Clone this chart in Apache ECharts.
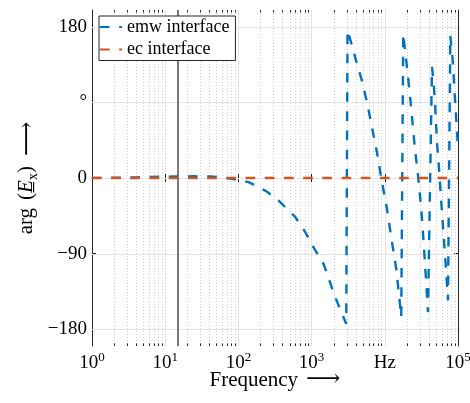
<!DOCTYPE html>
<html>
<head>
<meta charset="utf-8">
<script src="https://cdn.jsdelivr.net/npm/echarts@6/dist/echarts.min.js"></script>
<style>
  html, body { margin: 0; padding: 0; background: #ffffff; }
  #chart { width: 470px; height: 403px; }
</style>
</head>
<body>
<div id="chart"></div>
<script>
// Phase of E_x versus frequency for the two interface formulations.
const freqEmw = [1, 2, 4, 6.6, 12.8, 24, 42, 60, 78, 138, 239, 352, 597, 817, 1119, 1453, 2100, 2971,
  3096, 3554, 4160, 4866, 5697, 6670, 7810, 8940, 10690, 12520, 14330, 15740, 16780,
  17870, 19020, 20710, 22970, 25510, 28400, 31480, 33880, 36500, 38900,
  44130, 46430, 48980, 51660, 55500, 59100, 63560, 68540, 73000,
  78500, 84400, 89900, 96900, 100000];
const phaseEmw = [0.1, 0.3, 0.7, 1.2, 1.8, 2, 1.8, 0.8, -0.7, -4.9, -15.6, -26.6, -46.4, -64.3, -86, -102, -141.7, -173.6,
  175.9, 158, 136, 116, 90.5, 60.7, 30.7, 0, -36.4, -76, -108, -141.7, -165.5,
  171.7, 149.8, 122, 82.6, 39, 3.2, -36.4, -76, -120, -159.6,
  132.2, 114, 82.6, 42.6, 7, -28.8, -68, -108, -145.6,
  169.5, 142, 102, 54.8, 36];

const freqEc = [1, 100000];
const phaseEc = [0, 0];

// Reference frequency marked by the vertical line
const markerFreq = 15;

// Axis ticks and their labels
const xTickValues = [1, 10, 100, 1000, 10000, 100000];
const xTickLabels = ['{b|10}{p|0}', '{b|10}{p|1}', '{b|10}{p|2}', '{b|10}{p|3}', '{b|Hz}', '{b|10}{p|5}'];
const yTickValues = [-180, -90, 0, 90, 180];
const yTickLabels = ['\u2212180', '\u221290', '0', '\u00B0', '180'];

const FONT = '"Liberation Serif", "DejaVu Serif", serif';
const AXIS_COLOR = '#262626';
const MAJOR_GRID = '#e3e3e3';
const MINOR_GRID = '#cdcdcd';

// Minor decade positions 2..9 x 10^k for the log axis
const minorFreqs = [];
for (let k = 0; k < 5; k++) {
  for (let m = 2; m <= 9; m++) minorFreqs.push([m * Math.pow(10, k), 0]);
}

const zip = (xs, ys) => xs.map((x, i) => [x, ys[i]]);

function renderMinor(params, api) {
  const cs = params.coordSys;
  const x = Math.round(api.coord([api.value(0), 0])[0]) + 0.5;
  const top = cs.y, bot = cs.y + cs.height;
  return {
    type: 'group',
    children: [
      { type: 'line', shape: { x1: x, y1: top, x2: x, y2: bot },
        style: { stroke: MINOR_GRID, lineWidth: 1, lineDash: [1, 2] } },
      { type: 'line', shape: { x1: x, y1: bot, x2: x, y2: bot - 2.5 },
        style: { stroke: AXIS_COLOR, lineWidth: 1 } },
      { type: 'line', shape: { x1: x, y1: top, x2: x, y2: top + 2.5 },
        style: { stroke: AXIS_COLOR, lineWidth: 1 } }
    ]
  };
}

function renderHGrid(params, api) {
  const cs = params.coordSys;
  const y = Math.round(api.coord([1, api.value(1)])[1]) + 0.5;
  return {
    type: 'line',
    shape: { x1: cs.x, y1: y, x2: cs.x + cs.width, y2: y },
    style: { stroke: MAJOR_GRID, lineWidth: 1 }
  };
}

const chart = echarts.init(document.getElementById('chart'), null, { renderer: 'canvas' });

const xBase = {
  type: 'log', logBase: 10, min: 1, max: 100000, splitNumber: 5,
  axisLine: { show: true, lineStyle: { color: AXIS_COLOR, width: 1 } },
  axisTick: { show: true, inside: true, length: 4, lineStyle: { color: AXIS_COLOR } },
  minorTick: { show: false }
};
const yBase = {
  type: 'value', min: -200, max: 200,
  axisLine: { show: true, onZero: false, lineStyle: { color: AXIS_COLOR, width: 1 } },
  axisTick: { show: true, inside: true, length: 4, customValues: yTickValues, lineStyle: { color: AXIS_COLOR } },
  splitLine: { show: false }
};

chart.setOption({
  animation: false,
  backgroundColor: '#ffffff',
  grid: { left: 92, top: 10, right: 12, bottom: 57, containLabel: false, outerBoundsMode: 'none' },
  legend: {
    orient: 'vertical',
    left: 99, top: 16,
    padding: [2, 6, 2, 0],
    itemGap: 4.5,
    itemWidth: 22, itemHeight: 18,
    backgroundColor: '#ffffff',
    borderColor: AXIS_COLOR, borderWidth: 1, borderRadius: 0,
    itemStyle: { opacity: 0 },
    textStyle: { fontFamily: FONT, fontSize: 18, color: '#000000', lineHeight: 18 },
    data: ['emw interface', 'ec interface']
  },
  xAxis: [
    Object.assign({}, xBase, {
      position: 'bottom',
      name: '{t|Frequency}{a|\u27F6}',
      nameLocation: 'middle', nameGap: 22, nameMoveOverlap: false,
      nameTextStyle: {
        rich: {
          t: { fontFamily: FONT, fontSize: 21, color: '#000000', lineHeight: 24 },
          a: { fontFamily: FONT, fontSize: 24, color: '#000000', lineHeight: 24, padding: [0, 0, 0, 8] }
        }
      },
      splitLine: { show: true, lineStyle: { color: MAJOR_GRID, width: 1 } },
      axisLabel: {
        show: true, margin: 5,
        formatter: v => xTickLabels[Math.round(Math.log10(v))],
        rich: {
          b: { fontFamily: FONT, fontSize: 19, color: '#000000', lineHeight: 22, verticalAlign: 'bottom' },
          p: { fontFamily: FONT, fontSize: 13, color: '#000000', lineHeight: 12, verticalAlign: 'top' }
        }
      }
    }),
    Object.assign({}, xBase, {
      position: 'top',
      axisLabel: { show: false },
      splitLine: { show: false }
    })
  ],
  yAxis: [
    Object.assign({}, yBase, {
      position: 'left',
      name: '{t|arg}{g|(}{e|E\u0332}{s|x}{t|)}{a|\u27F6}',
      nameLocation: 'middle', nameGap: 52, nameRotate: 90, nameMoveOverlap: false,
      nameTextStyle: {
        rich: {
          t: { fontFamily: FONT, fontSize: 21, color: '#000000', lineHeight: 24, verticalAlign: 'top' },
          g: { fontFamily: FONT, fontSize: 21, color: '#000000', lineHeight: 24, verticalAlign: 'top', padding: [0, 0, 0, 8] },
          e: { fontFamily: FONT, fontSize: 21, fontStyle: 'italic', color: '#000000', lineHeight: 24, verticalAlign: 'top' },
          s: { fontFamily: FONT, fontSize: 14, color: '#000000', lineHeight: 14, verticalAlign: 'bottom' },
          a: { fontFamily: FONT, fontSize: 24, color: '#000000', lineHeight: 24, verticalAlign: 'top', padding: [0, 0, 0, 10] }
        }
      },
      axisLabel: {
        show: true, margin: 5, customValues: yTickValues,
        fontFamily: FONT, fontSize: 19, color: '#000000',
        formatter: v => yTickLabels[yTickValues.indexOf(Math.round(v))]
      }
    }),
    Object.assign({}, yBase, {
      position: 'right',
      axisLabel: { show: false }
    })
  ],
  series: [
    {
      type: 'custom', name: 'minor', silent: true, z: 1,
      xAxisIndex: 0, yAxisIndex: 0,
      renderItem: renderMinor,
      data: minorFreqs
    },
    {
      type: 'custom', name: 'hgrid', silent: true, z: 1,
      xAxisIndex: 0, yAxisIndex: 0,
      renderItem: renderHGrid,
      data: yTickValues.map(v => [1, v])
    },
    {
      name: 'emw interface', type: 'line', z: 3,
      xAxisIndex: 0, yAxisIndex: 0,
      symbol: 'none', showSymbol: false,
      lineStyle: { color: '#0072BD', width: 2.4, type: [9.6, 9.6], cap: 'butt' },
      itemStyle: { color: '#0072BD' },
      data: zip(freqEmw, phaseEmw)
    },
    {
      name: 'ec interface', type: 'line', z: 4,
      xAxisIndex: 0, yAxisIndex: 0,
      symbol: 'none', showSymbol: false,
      lineStyle: { color: '#D95319', width: 2.4, type: [9.6, 9.6], cap: 'butt' },
      itemStyle: { color: '#D95319' },
      data: zip(freqEc, phaseEc),
      markLine: {
        silent: true, symbol: 'none', z: 2,
        label: { show: false },
        lineStyle: { color: '#4d4d4d', width: 1.5, type: 'solid' },
        data: [{ xAxis: markerFreq }]
      }
    }
  ]
});
</script>
</body>
</html>
